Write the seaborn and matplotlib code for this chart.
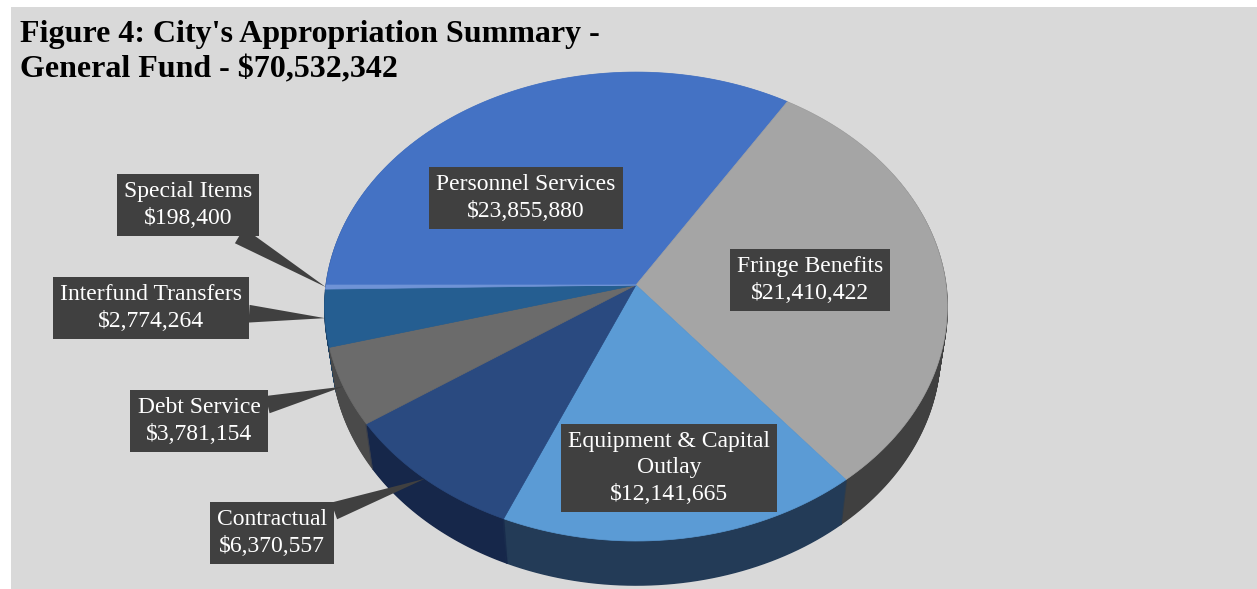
import numpy as np
import matplotlib
matplotlib.use("Agg")
import matplotlib.pyplot as plt
import seaborn as sns
from matplotlib.transforms import Transform
from matplotlib.patches import Rectangle
from matplotlib.path import Path

# ---------------- data ----------------
categories = ["Personnel Services", "Fringe Benefits", "Equipment & Capital\nOutlay",
              "Contractual", "Debt Service", "Interfund Transfers", "Special Items"]
values = [23855880, 21410422, 12141665, 6370557, 3781154, 2774264, 198400]
title = "Figure 4: City's Appropriation Summary -\nGeneral Fund - $70,532,342"

# ---------------- styles / layout ----------------
top_colors = ["#4472C4", "#A5A5A5", "#5B9BD5", "#2A4A80", "#6B6B6B", "#255E91", "#6F93D6"]
side_colors = ["#2B4A80", "#404040", "#233B57", "#16274A", "#4A4A4A", "#1A3F63", "#4A66A0"]
BOX = "#404040"
BG = "#D9D9D9"
W, H = 1257, 589
R_PX = 310
CX, CY = 636, 285
TILT_C, TILT_S, DIST = 0.75, 0.661, 7.2
DEPTH = 0.23
label_pos = [(526, 198), (810, 280), (669, 468), (272, 533), (199, 421), (151, 308), (188, 205)]
inside = [True, True, True, False, False, False, False]

sns.set_theme(style="white")
SERIF = ["Liberation Serif", "DejaVu Serif"]
plt.rcParams["font.family"] = SERIF


class Tilt(Transform):
    """Perspective view of a tilted disk (pie face at height h)."""
    input_dims = 2
    output_dims = 2
    is_separable = False

    def __init__(self, h=0.0):
        super().__init__()
        self.h = h

    def transform_non_affine(self, values):
        v = np.asarray(values, dtype=float).reshape(-1, 2)
        x, y = v[:, 0], v[:, 1]
        Y = y * TILT_C + self.h * TILT_S
        Z = DIST + y * TILT_S - self.h * TILT_C
        return np.column_stack([x * DIST / Z, Y * DIST / Z])

    def transform_path_non_affine(self, path):
        pts = []
        t = np.linspace(0, 1, 24)
        for seg, code in path.iter_bezier():
            if code == Path.MOVETO:
                pts.append(np.atleast_2d(seg.control_points[-1]))
            else:
                pts.append(seg(t))
        pts = np.vstack(pts)
        return Path(self.transform_non_affine(pts), closed=True)


fig = plt.figure(figsize=(W / 100, H / 100), dpi=100)
fig.patch.set_facecolor("white")
fig.add_artist(Rectangle((11 / W, 0), 1 - 11 / W, 1 - 7 / H, transform=fig.transFigure,
                         fc=BG, ec="none", zorder=-5))
ax = fig.add_axes([0, 0, 1, 1])
ax.set_axis_off()
ax.patch.set_alpha(0)

# side wall: stacked layers
n_layers = 45
for i in range(n_layers):
    h = -DEPTH * (1 - i / n_layers)
    ws, _ = ax.pie(values, colors=side_colors, startangle=180, counterclock=False,
                   wedgeprops=dict(linewidth=1.2))
    for w in ws:
        w.set_edgecolor(w.get_facecolor())
        w.set_transform(Tilt(h) + ax.transData)

# top face
wedges, _ = ax.pie(values, colors=top_colors, startangle=180, counterclock=False,
                   wedgeprops=dict(linewidth=0.5))
for w in wedges:
    w.set_edgecolor(w.get_facecolor())
    w.set_transform(Tilt(0.0) + ax.transData)

ax.set_aspect("auto")
ax.set_xlim(-CX / R_PX, (W - CX) / R_PX)
ax.set_ylim(-(H - CY) / R_PX, CY / R_PX)

proj = Tilt(0.0)
for w, name, v, (px, py), ins in zip(wedges, categories, values, label_pos, inside):
    txt = f"{name}\n${v:,}"
    xy_fig = (px / W, 1 - py / H)
    bbox = dict(boxstyle="square,pad=0.3", fc=BOX, ec="none")
    if ins:
        fig.text(xy_fig[0], xy_fig[1], txt, ha="center", va="center", color="white",
                 fontsize=17, family=SERIF, bbox=bbox, multialignment="center",
                 linespacing=1.32, zorder=10)
    else:
        mid = np.deg2rad((w.theta1 + w.theta2) / 2)
        target = proj.transform(np.array([[np.cos(mid), np.sin(mid)]]))[0]
        ax.annotate(txt, xy=target, xycoords="data", xytext=xy_fig,
                    textcoords="figure fraction", ha="center", va="center",
                    color="white", fontsize=17, family=SERIF, bbox=bbox,
                    multialignment="center", linespacing=1.32,
                    annotation_clip=False, zorder=10,
                    arrowprops=dict(arrowstyle="wedge,tail_width=0.75,shrink_factor=0.5",
                                    fc=BOX, ec="none", shrinkA=0, shrinkB=0))

fig.text(20 / W, 1 - 20 / H, title, ha="left", va="top", fontsize=23,
         fontweight="bold", family=SERIF, color="black", linespacing=1.3)

fig.savefig("out.png", dpi=100, facecolor=fig.get_facecolor())
